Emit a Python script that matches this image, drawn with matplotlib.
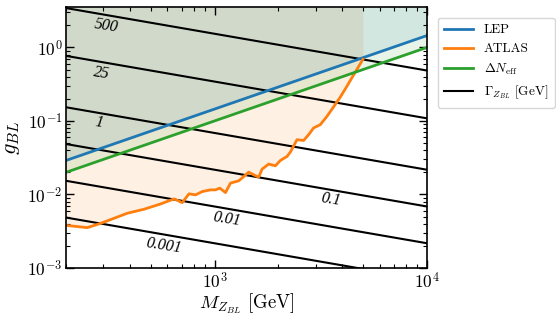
import numpy as np
import matplotlib
matplotlib.use("Agg")
import matplotlib.pyplot as plt
from matplotlib.lines import Line2D

plt.rcParams['font.family'] = 'serif'
plt.rcParams['font.serif'] = ['cmr10']
plt.rcParams['mathtext.fontset'] = 'cm'
plt.rcParams['axes.formatter.use_mathtext'] = True

# ---- data ----
M_range = [200.0, 1.0e4]
g_max = 3.545

# LEP and Delta N_eff bounds (straight lines in log-log)
g_lep = [0.029, 1.45]
g_neff = [0.02, 1.0]

# ATLAS dilepton bound
M_atlas = [200, 252, 292, 389, 466, 558, 645, 705, 758, 814, 876, 958, 1011,
           1059, 1126, 1189, 1300, 1373, 1449, 1529, 1614, 1675, 1799, 1934,
           2041, 2194, 2275, 2445, 2626, 2772, 2925, 3146, 3382, 3632, 3904,
           4198, 4432, 4677, 4990]
g_atlas = [0.0038, 0.00354, 0.00406, 0.00556, 0.0063, 0.00744, 0.00871,
           0.00775, 0.0102, 0.00988, 0.01096, 0.01155, 0.01155, 0.01219,
           0.01061, 0.01426, 0.01533, 0.01754, 0.02014, 0.0185, 0.01722,
           0.02214, 0.02591, 0.02455, 0.029, 0.03289, 0.03776, 0.0556,
           0.0543, 0.065, 0.0802, 0.089, 0.1155, 0.155, 0.21, 0.2965, 0.386,
           0.501, 0.686]

# Width contours: Gamma [GeV] and coupling at M=200 and M=1e4
gamma_labels = ['500', '25', '1', '0.1', '0.01', '0.001']
g_gamma_lo = [3.43, 0.7675, 0.1535, 0.04854, 0.01535, 0.004854]
g_gamma_hi = [0.485, 0.1085, 0.0217, 0.006865, 0.00217, 0.000686]
label_M = [308, 295, 287, 3532, 1147, 578]
label_g = [1.934, 0.442, 0.0948, 0.00844, 0.0046, 0.00201]

fig = plt.figure(figsize=(5.56, 3.16), dpi=100)
ax = fig.add_axes([66/556, (316-268)/316, (427-66)/556, (268-7)/316])
ax.set_xscale('log')
ax.set_yscale('log')

# fills
ax.fill_between(M_atlas, g_atlas, g_max, color='C1', alpha=0.11, lw=0)
ax.fill_between(M_range, g_lep, g_max, color='C0', alpha=0.11, lw=0)
ax.fill_between(M_range, g_neff, g_max, color='C2', alpha=0.11, lw=0)

for lo, hi in zip(g_gamma_lo, g_gamma_hi):
    ax.plot(M_range, [lo, hi], color='k', lw=1.5)

ax.plot(M_range, g_lep, color='C0', lw=2)
ax.plot(M_atlas, g_atlas, color='C1', lw=2)
ax.plot(M_range, g_neff, color='C2', lw=2)

for lab, xm, yg in zip(gamma_labels, label_M, label_g):
    ax.text(xm, yg, lab, rotation=-9, ha='center', va='center',
            fontsize=11.5, family='Liberation Serif', style='italic')

ax.set_xlim(M_range)
ax.set_ylim(1e-3, g_max)
ax.tick_params(which='both', direction='in', top=True, right=True, labelsize=12.5, pad=2.5)
ax.tick_params(which='major', length=6, width=1)
ax.tick_params(which='minor', length=3, width=0.8)
for s in ax.spines.values():
    s.set_linewidth(1.2)

ax.set_xlabel(r'$M_{Z_{BL}}$ [GeV]', fontsize=13.5, labelpad=0)
ax.set_ylabel(r'$g_{BL}$', fontsize=16, labelpad=4)

handles = [Line2D([], [], color='C0', lw=2), Line2D([], [], color='C1', lw=2),
           Line2D([], [], color='C2', lw=2), Line2D([], [], color='k', lw=1.5)]
labels = ['LEP', 'ATLAS', r'$\Delta N_{\rm eff}$', r'$\Gamma_{Z_{BL}}$ [GeV]']
fig.legend(handles, labels, loc='upper left', bbox_to_anchor=(431/556, 1 - 11/316),
           fontsize=9.5, handlelength=2.2, borderpad=0.5, labelspacing=0.5)

fig.savefig('out.png', dpi=100)
